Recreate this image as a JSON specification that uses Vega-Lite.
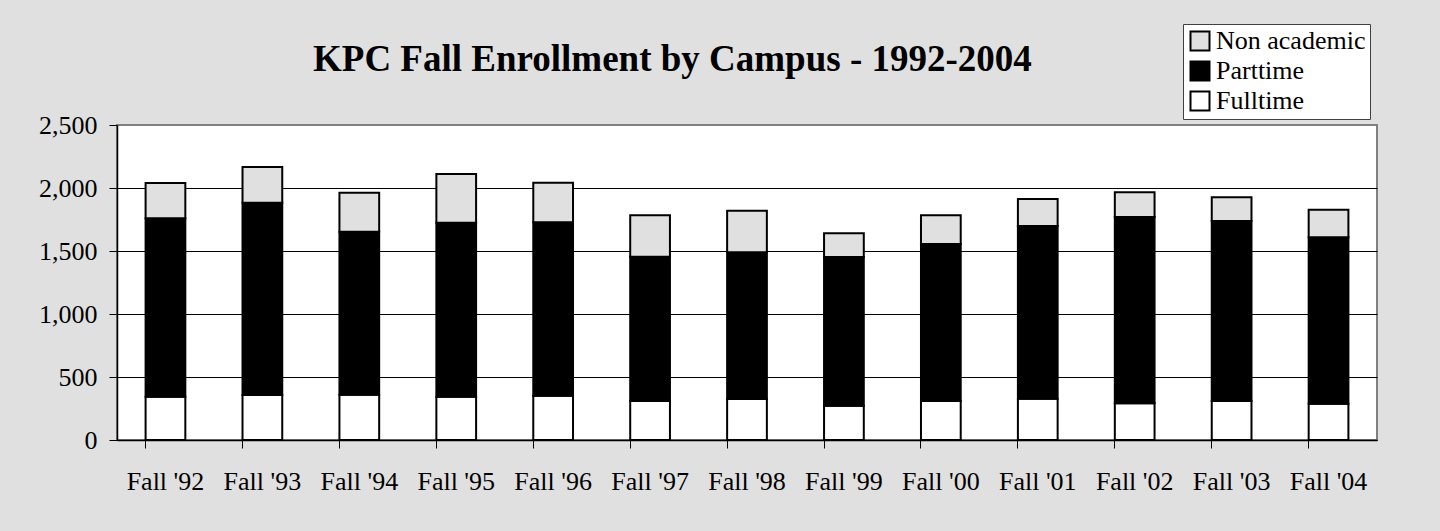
{
  "$schema": "https://vega.github.io/schema/vega-lite/v6.json",
  "autosize": "none",
  "width": 1260,
  "height": 315,
  "padding": {"left": 117, "top": 125, "right": 63, "bottom": 91},
  "background": "#E0E0E0",
  "title": {
    "text": "KPC Fall Enrollment by Campus - 1992-2004",
    "anchor": "start",
    "frame": "group",
    "dx": 196,
    "dy": 84,
    "offset": 0,
    "baseline": "alphabetic",
    "font": "Liberation Serif",
    "fontSize": 37,
    "fontWeight": "bold",
    "color": "black"
  },
  "data": {
    "values": [
      {"campus": "Fall '92", "type": "Fulltime", "n": 344},
      {"campus": "Fall '92", "type": "Parttime", "n": 1415},
      {"campus": "Fall '92", "type": "Non academic", "n": 281},
      {"campus": "Fall '93", "type": "Fulltime", "n": 357},
      {"campus": "Fall '93", "type": "Parttime", "n": 1526},
      {"campus": "Fall '93", "type": "Non academic", "n": 284},
      {"campus": "Fall '94", "type": "Fulltime", "n": 360},
      {"campus": "Fall '94", "type": "Parttime", "n": 1293},
      {"campus": "Fall '94", "type": "Non academic", "n": 310},
      {"campus": "Fall '95", "type": "Fulltime", "n": 344},
      {"campus": "Fall '95", "type": "Parttime", "n": 1381},
      {"campus": "Fall '95", "type": "Non academic", "n": 386},
      {"campus": "Fall '96", "type": "Fulltime", "n": 352},
      {"campus": "Fall '96", "type": "Parttime", "n": 1376},
      {"campus": "Fall '96", "type": "Non academic", "n": 314},
      {"campus": "Fall '97", "type": "Fulltime", "n": 310},
      {"campus": "Fall '97", "type": "Parttime", "n": 1145},
      {"campus": "Fall '97", "type": "Non academic", "n": 328},
      {"campus": "Fall '98", "type": "Fulltime", "n": 325},
      {"campus": "Fall '98", "type": "Parttime", "n": 1165},
      {"campus": "Fall '98", "type": "Non academic", "n": 330},
      {"campus": "Fall '99", "type": "Fulltime", "n": 272},
      {"campus": "Fall '99", "type": "Parttime", "n": 1180},
      {"campus": "Fall '99", "type": "Non academic", "n": 188},
      {"campus": "Fall '00", "type": "Fulltime", "n": 310},
      {"campus": "Fall '00", "type": "Parttime", "n": 1246},
      {"campus": "Fall '00", "type": "Non academic", "n": 227},
      {"campus": "Fall '01", "type": "Fulltime", "n": 328},
      {"campus": "Fall '01", "type": "Parttime", "n": 1370},
      {"campus": "Fall '01", "type": "Non academic", "n": 215},
      {"campus": "Fall '02", "type": "Fulltime", "n": 291},
      {"campus": "Fall '02", "type": "Parttime", "n": 1479},
      {"campus": "Fall '02", "type": "Non academic", "n": 196},
      {"campus": "Fall '03", "type": "Fulltime", "n": 310},
      {"campus": "Fall '03", "type": "Parttime", "n": 1428},
      {"campus": "Fall '03", "type": "Non academic", "n": 188},
      {"campus": "Fall '04", "type": "Fulltime", "n": 288},
      {"campus": "Fall '04", "type": "Parttime", "n": 1321},
      {"campus": "Fall '04", "type": "Non academic", "n": 219}
    ]
  },
  "transform": [
    {"calculate": "indexof(['Fulltime', 'Parttime', 'Non academic'], datum.type)", "as": "stackOrder"}
  ],
  "mark": {"type": "bar", "stroke": "black", "strokeWidth": 2},
  "encoding": {
    "x": {
      "field": "campus",
      "type": "nominal",
      "sort": null,
      "scale": {"paddingInner": 0.59, "paddingOuter": 0.295},
      "axis": {
        "title": null,
        "labelAngle": 0,
        "bandPosition": 0,
        "tickSize": 8,
        "tickColor": "black",
        "domainColor": "black",
        "domainWidth": 1.5,
        "labelFont": "Liberation Serif",
        "labelFontSize": 26,
        "labelColor": "black",
        "labelBaseline": "alphabetic",
        "labelPadding": 41,
        "labelAlign": "center",
        "labelLimit": 0,
        "grid": false
      }
    },
    "y": {
      "field": "n",
      "type": "quantitative",
      "stack": "zero",
      "scale": {"domain": [0, 2500], "nice": false},
      "axis": {
        "title": null,
        "values": [0, 500, 1000, 1500, 2000, 2500],
        "format": ",.0f",
        "tickSize": 8,
        "tickColor": "black",
        "domainColor": "black",
        "domainWidth": 1.5,
        "labelFont": "Liberation Serif",
        "labelFontSize": 26,
        "labelColor": "black",
        "labelPadding": 12,
        "grid": true,
        "gridColor": {"condition": {"test": "datum.value === 2500", "value": "#808080"}, "value": "black"},
        "gridWidth": 1
      }
    },
    "order": {"field": "stackOrder", "type": "quantitative", "sort": "ascending"},
    "color": {
      "field": "type",
      "type": "nominal",
      "scale": {"domain": ["Non academic", "Parttime", "Fulltime"], "range": ["#E0E0E0", "black", "white"]},
      "legend": {
        "title": null,
        "orient": "none",
        "legendX": 1066,
        "legendY": -101,
        "symbolType": "square",
        "symbolSize": 361,
        "symbolStrokeColor": "black",
        "symbolStrokeWidth": 2,
        "symbolOpacity": 1,
        "labelFont": "Liberation Serif",
        "labelFontSize": 26,
        "labelColor": "black",
        "labelOffset": 3,
        "labelLimit": 0,
        "rowPadding": 2,
        "padding": 4,
        "strokeColor": "#404040",
        "fillColor": "white"
      }
    }
  },
  "config": {
    "view": {"fill": "white", "stroke": "#808080", "strokeWidth": 2}
  }
}
